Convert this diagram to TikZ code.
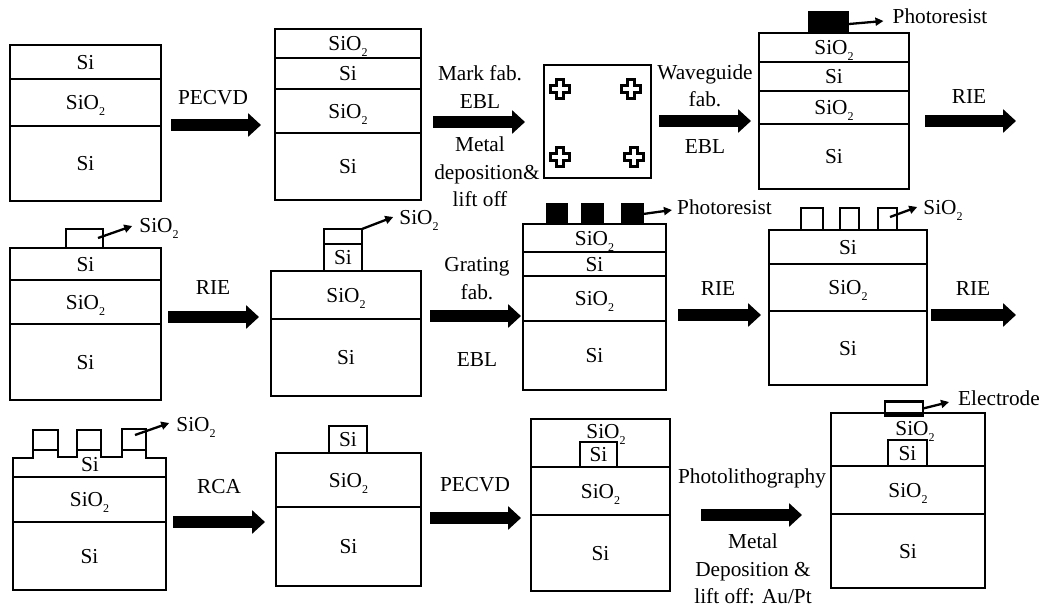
\documentclass[tikz,border=0pt]{standalone}
\usepackage{fontspec}
\setmainfont{Liberation Serif}
\usetikzlibrary{arrows.meta,calc}
\newcommand\sio{SiO\raisebox{-6pt}{\fontsize{12}{12}\selectfont 2}}
\newcommand\lay[6]{\node[layer,minimum width={(#4-#2)*1pt},minimum height={(#5-#3)*1pt}] (#1) at ({(#2+#4)/2},{(#3+#5)/2}) {#6};}
\newcommand\res[5]{\node[resist,minimum width={(#4-#2)*1pt},minimum height={(#5-#3)*1pt}] (#1) at ({(#2+#4)/2},{(#3+#5)/2}) {};}
\newcommand\barrow[5]{\draw[bigarrow] ($(#1 |- 0,#5)+(#2,0)$) -- ($(#3 |- 0,#5)+(#4,0)$);}
\newcommand\leadto[4]{\draw[leader] (#1) -- ([xshift=#3pt,yshift=#4pt]#2.west);}
\newcommand\plus[2]{\draw[markcross] (#1,#2) ++(-3.5,-9.5) -- ++(7,0) -- ++(0,6) -- ++(6,0) -- ++(0,7) -- ++(-6,0) -- ++(0,6) -- ++(-7,0) -- ++(0,-6) -- ++(-6,0) -- ++(0,-7) -- ++(6,0) -- cycle;}
\tikzset{
  layer/.style={draw=black,line width=2.3pt,inner sep=0pt,outer sep=0pt,font=\fontsize{21.3}{21.3}\selectfont,text height=14pt,text depth=0pt,align=center},
  resist/.style={layer,fill=black},
  txt/.style={inner sep=1.5pt,font=\fontsize{21.3}{21.3}\selectfont,text height=14pt,text depth=0pt,align=center},
  bigarrow/.style={line width=12pt,-{Triangle[length=13pt,width=23pt]}},
  leader/.style={line width=2.3pt,-{Triangle[length=8pt,width=8pt]}},
  markcross/.style={line width=2.8pt,draw=black,line join=miter}
}
\begin{document}
\begin{tikzpicture}[x=1pt,y=-1pt]
\useasboundingbox (0,0) rectangle (1042,606);
\fill[white] (0,0) rectangle (1042,606);
% Row 1
\lay{a1}{10}{45}{161}{79}{Si}
\lay{a2}{10}{79}{161}{126}{\sio}
\lay{a3}{10}{126}{161}{201}{Si}
\lay{b1}{275}{29}{421}{58}{\sio}
\lay{b2}{275}{58}{421}{89}{Si}
\lay{b3}{275}{89}{421}{133}{\sio}
\lay{b4}{275}{133}{421}{200}{Si}
\lay{sq}{544}{65}{651}{178}{}
\plus{560}{89}\plus{631}{89}\plus{560}{157}\plus{634}{157}
\lay{c1}{759}{33}{909}{62}{\sio}
\lay{c2}{759}{62}{909}{91}{Si}
\lay{c3}{759}{91}{909}{124}{\sio}
\lay{c4}{759}{124}{909}{189}{Si}
\res{cr}{809}{12}{848}{33}
\node[txt] (lc) at (940,16) {Photoresist};
\coordinate (sc) at (849,24);
\leadto{sc}{lc}{-7.5}{-5}
\coordinate (endA) at (1016,121);
\barrow{a3.east}{10}{b4.west}{-14}{125}
\barrow{b4.east}{12}{sq.west}{-19}{122}
\barrow{sq.east}{8}{c4.west}{-8}{121}
\barrow{c4.east}{16}{endA}{0}{121}
\node[txt] (t1) at (213,97) {PECVD};
\node[txt] (t2) at (480,73) {Mark fab.};
\node[txt] (t3) at (480,101) {EBL};
\node[txt] (t4) at (480,144) {Metal};
\node[txt] (t5) at (487,172) {deposition\&};
\node[txt] (t6) at (480,199) {lift off};
\node[txt] (t7) at (705,72) {Waveguide};
\node[txt] (t8) at (705,99) {fab.};
\node[txt] (t9) at (705,146) {EBL};
\node[txt] (t10) at (969,96) {RIE};
% Row 2
\lay{d1}{10}{248}{161}{280}{Si}
\lay{d2}{10}{280}{161}{324}{\sio}
\lay{d3}{10}{324}{161}{400}{Si}
\lay{dc}{66}{229}{103}{248}{}
\node[txt] (ld) at (159,225) {\sio};
\coordinate (sd) at (98,238);
\leadto{sd}{ld}{-5.5}{-1}
\lay{e1}{271}{271}{421}{319}{\sio}
\lay{e2}{271}{319}{421}{396}{Si}
\lay{es}{324}{244}{362}{271}{Si}
\lay{ec}{324}{229}{362}{244}{}
\node[txt] (le) at (419,217) {\sio};
\leadto{ec.north east}{le}{-4.5}{0}
\lay{f1}{523}{224}{666}{252}{\sio}
\lay{f2}{523}{252}{666}{276}{Si}
\lay{f3}{523}{276}{666}{321}{\sio}
\lay{f4}{523}{321}{666}{390}{Si}
\res{fr1}{547}{204}{567}{224}
\res{fr2}{582}{204}{603}{224}
\res{fr3}{622}{204}{643}{224}
\node[txt] (lf) at (724.5,207) {Photoresist};
\leadto{fr3.east}{lf}{-3.5}{-3}
\lay{g1}{769}{230}{927}{264}{Si}
\lay{g2}{769}{264}{927}{311}{\sio}
\lay{g3}{769}{311}{927}{385}{Si}
\lay{gb1}{801}{208}{823}{230}{}
\lay{gb2}{840}{208}{859}{230}{}
\lay{gb3}{878}{208}{897}{230}{}
\node[txt] (lg) at (943,207) {\sio};
\coordinate (sg) at (890,217);
\leadto{sg}{lg}{-4.5}{0}
\coordinate (endB) at (1016,315);
\barrow{d3.east}{7}{e2.west}{-12}{317}
\barrow{e2.east}{9}{f4.west}{-2}{316}
\barrow{f4.east}{12}{g3.west}{-8}{315}
\barrow{g3.east}{4}{endB}{0}{315}
\node[txt] (t11) at (213,287) {RIE};
\node[txt] (t12) at (477,264) {Grating};
\node[txt] (t13) at (477,292) {fab.};
\node[txt] (t14) at (477,359) {EBL};
\node[txt] (t15) at (718,288) {RIE};
\node[txt] (t16) at (973,288) {RIE};
% Row 3
\draw[line width=2.3pt,line join=miter] (13,477) -- (13,458) -- (33,458) -- (33,430) -- (58,430) -- (58,457) -- (77,457) -- (77,430) -- (101,430) -- (101,457) -- (122,457) -- (122,429) -- (146,429) -- (146,458) -- (166,458) -- (166,477);
\draw[line width=2.3pt] (33,450) -- (58,450) (77,450) -- (101,450) (122,450) -- (146,450);
\node[txt] (h0) at (90,464) {Si};
\lay{h1}{13}{477}{166}{522}{\sio}
\lay{h2}{13}{522}{166}{590}{Si}
\node[txt] (lh) at (196,424) {\sio};
\coordinate (sh) at (135,435);
\leadto{sh}{lh}{-5.5}{1}
\lay{i1}{276}{453}{421}{507}{\sio}
\lay{i2}{276}{507}{421}{586}{Si}
\lay{is}{329}{426}{367}{453}{Si}
\lay{j1}{531}{419}{670}{467}{}
\lay{j2}{531}{467}{670}{515}{\sio}
\lay{j3}{531}{515}{670}{591}{Si}
\lay{js}{580}{442}{617}{467}{Si}
\node[txt] (jt) at (606,431) {\sio};
\lay{k1}{831}{413}{985}{466}{}
\lay{k2}{831}{466}{985}{514}{\sio}
\lay{k3}{831}{514}{985}{588}{Si}
\lay{ks}{888}{440}{927}{466}{Si}
\node[txt] (kt) at (915,428) {\sio};
\lay{kr}{885}{404}{923}{413}{}
\node[txt] (lk) at (999,398) {Electrode};
\leadto{kr.east}{lk}{-7.5}{-4}
\barrow{h2.east}{7}{i2.west}{-11}{522}
\barrow{i2.east}{9}{j3.west}{-10}{518}
\barrow{j3.east}{31}{k3.west}{-29}{515}
\node[txt] (t17) at (219,486) {RCA};
\node[txt] (t18) at (475,484) {PECVD};
\node[txt] (t19) at (752,476) {Photolithography};
\node[txt] (t20) at (753,541) {Metal};
\node[txt] (t21) at (753,569) {Deposition \&};
\node[txt] (t22) at (753,596) {lift off: Au/Pt};
\end{tikzpicture}
\end{document}
